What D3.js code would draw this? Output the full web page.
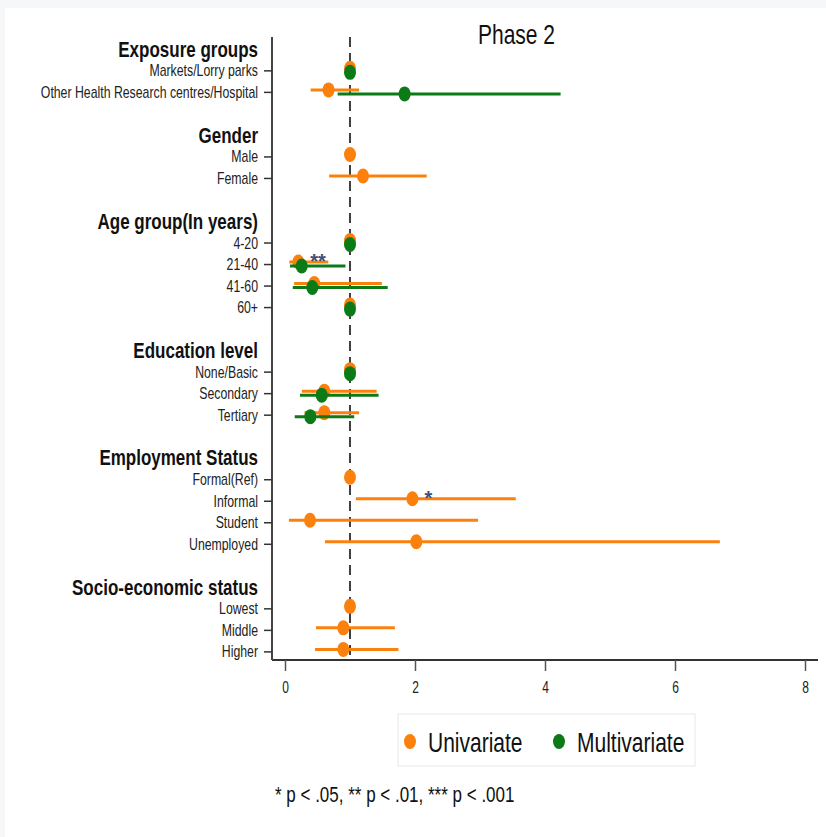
<!DOCTYPE html>
<html>
<head>
<meta charset="utf-8">
<script src="https://cdn.jsdelivr.net/npm/d3@7"></script>
<style>
  html, body { margin: 0; padding: 0; background: #f5f7f8; }
  svg { display: block; }
  text { font-family: "Liberation Sans", Arial, sans-serif; }
</style>
</head>
<body>
<svg id="chart" width="826" height="837"></svg>
<script>
// ---------------- DATA ----------------
const title = "Phase 2";
const groups = ["Exposure groups", "Gender", "Age group(In years)", "Education level", "Employment Status", "Socio-economic status"];
const labels = [
  "Markets/Lorry parks", "Other Health Research centres/Hospital",
  "Male", "Female",
  "4-20", "21-40", "41-60", "60+",
  "None/Basic", "Secondary", "Tertiary",
  "Formal(Ref)", "Informal", "Student", "Unemployed",
  "Lowest", "Middle", "Higher"
];
const labelGroup = [0,0, 1,1, 2,2,2,2, 3,3,3, 4,4,4,4, 5,5,5];

const uniEst = [1, 0.67, 1, 1.20, 1, 0.205, 0.45, 1, 1, 0.605, 0.605, 1, 1.96, 0.385, 2.02, 1, 0.897, 0.897];
const uniLo  = [null, 0.395, null, 0.68, null, 0.066, 0.14, null, null, 0.26, 0.30, null, 1.09, 0.06, 0.615, null, 0.477, 0.462];
const uniHi  = [null, 1.14, null, 2.18, null, 0.666, 1.49, null, null, 1.41, 1.14, null, 3.55, 2.97, 6.69, null, 1.69, 1.745];

const multiEst = [1, 1.84, null, null, 1, 0.257, 0.42, 1, 1, 0.565, 0.39, null, null, null, null, null, null, null];
const multiLo  = [null, 0.81, null, null, null, 0.077, 0.12, null, null, 0.23, 0.15, null, null, null, null, null, null, null];
const multiHi  = [null, 4.24, null, null, null, 0.93, 1.58, null, null, 1.44, 1.065, null, null, null, null, null, null, null];

const uniStars = ["", "", "", "", "", "**", "", "", "", "", "", "", "*", "", "", "", "", ""];

const xTicks = [0, 2, 4, 6, 8];
const xDomain = [-0.2, 8.2];
const refValue = 1;
const seriesNames = ["Univariate", "Multivariate"];
const footnote = "* p < .05, ** p < .01, *** p < .001";

// ---------------- LAYOUT ----------------
const ORANGE = "#fb810c";
const GREEN = "#0b7a17";
const TEXT_SY = 1.3;

const svg = d3.select("#chart");
svg.append("rect").attr("x", 5).attr("y", 8).attr("width", 821).attr("height", 829).attr("fill", "#ffffff");

// row slots: header, items..., blank
const rowOf = [];
const headerRow = [];
let r = 0;
groups.forEach((g, gi) => {
  headerRow.push(r); r++;
  labelGroup.forEach((lg, i) => { if (lg === gi) { rowOf[i] = r; r++; } });
  r++;
});

const plotLeft = 272, plotRight = 818, plotTop = 37, plotBottom = 660;
const x = d3.scaleLinear().domain(xDomain).range([plotLeft, plotRight]);
const y = d3.scaleLinear().domain([-0.55, 28.4]).range([plotTop, plotBottom]);

function sText(sel, tx, ty, sy) {
  return sel.attr("transform", `translate(${tx},${ty}) scale(1,${sy})`);
}

// reference dashed line
svg.append("line")
  .attr("x1", x(refValue)).attr("x2", x(refValue))
  .attr("y1", plotTop).attr("y2", plotBottom)
  .attr("stroke", "#111").attr("stroke-width", 1.6)
  .attr("stroke-dasharray", "10,6");

// x axis
const xAxis = d3.axisBottom(x).tickValues(xTicks).tickSize(11).tickSizeOuter(0).tickFormat(d3.format("d"));
const gx = svg.append("g").attr("transform", `translate(0,${plotBottom})`).call(xAxis);
gx.select(".domain").attr("stroke", "#333").attr("stroke-width", 2)
  .attr("d", `M${plotLeft},0H${plotRight}`);
gx.selectAll(".tick line").attr("stroke", "#555").attr("stroke-width", 1.5);
gx.selectAll(".tick text").attr("y", 0).attr("dy", 0)
  .attr("transform", `translate(0,33) scale(1,1.45)`)
  .attr("font-size", 12).attr("fill", "#222")
  .style("font-family", '"Liberation Sans", Arial, sans-serif');

// y axis
const yAxis = d3.axisLeft(y).tickValues(rowOf).tickSize(8).tickSizeOuter(0)
  .tickFormat((d) => labels[rowOf.indexOf(d)]);
const gy = svg.append("g").attr("transform", `translate(${plotLeft},0)`).call(yAxis);
gy.select(".domain").attr("stroke", "#444").attr("stroke-width", 2)
  .attr("d", `M0,${plotTop}V${plotBottom}`);
gy.selectAll(".tick line").attr("stroke", "#333").attr("stroke-width", 1.5);
gy.selectAll(".tick text").attr("x", 0).attr("dy", 0)
  .attr("transform", `translate(-14,5.5) scale(1,${TEXT_SY})`)
  .attr("font-size", 12.3).attr("fill", "#222")
  .style("font-family", '"Liberation Sans", Arial, sans-serif');

// group headers
groups.forEach((g, gi) => {
  sText(svg.append("text"), 258, y(headerRow[gi]) + 7.7, TEXT_SY)
    .attr("text-anchor", "end").attr("font-size", 17).attr("font-weight", "bold")
    .attr("fill", "#111").text(g);
});

// series
const series = [
  { est: uniEst, lo: uniLo, hi: uniHi, color: ORANGE, off: -2, stars: uniStars },
  { est: multiEst, lo: multiLo, hi: multiHi, color: GREEN, off: 2, stars: null }
];
series.forEach((s) => {
  const g = svg.append("g");
  const idx = d3.range(labels.length).filter((i) => s.est[i] != null);
  g.selectAll("line.ci").data(idx.filter((i) => s.lo[i] != null)).join("line")
    .attr("x1", (i) => x(s.lo[i])).attr("x2", (i) => x(s.hi[i]))
    .attr("y1", (i) => y(rowOf[i]) + s.off).attr("y2", (i) => y(rowOf[i]) + s.off)
    .attr("stroke", s.color).attr("stroke-width", 3);
  g.selectAll("ellipse").data(idx).join("ellipse")
    .attr("cx", (i) => x(s.est[i])).attr("cy", (i) => y(rowOf[i]) + s.off)
    .attr("rx", 6).attr("ry", 7.5).attr("fill", s.color);
  if (s.stars) {
    g.selectAll("text.star").data(idx.filter((i) => s.stars[i])).join("text")
      .attr("x", (i) => x(s.est[i]) + 12).attr("y", (i) => y(rowOf[i]) + 4)
      .attr("font-size", 20).attr("font-weight", "bold").attr("fill", "#3c4f7c").text((i) => s.stars[i]);
  }
});

// title
sText(svg.append("text"), 478, 44, TEXT_SY).attr("font-size", 21).attr("fill", "#111").text(title);

// legend
svg.append("rect").attr("x", 398).attr("y", 714).attr("width", 297).attr("height", 52)
  .attr("fill", "#fff").attr("stroke", "#e6e8ea").attr("stroke-width", 1);
const legItems = [
  { name: seriesNames[0], color: ORANGE, cx: 410, tx: 428 },
  { name: seriesNames[1], color: GREEN, cx: 559, tx: 577 }
];
legItems.forEach((d) => {
  svg.append("ellipse").attr("cx", d.cx).attr("cy", 741.5).attr("rx", 6).attr("ry", 7.5).attr("fill", d.color);
  sText(svg.append("text"), d.tx, 751.5, TEXT_SY).attr("font-size", 21).attr("fill", "#111").text(d.name);
});

// footnote
sText(svg.append("text"), 275, 802, TEXT_SY).attr("font-size", 17).attr("fill", "#111").text(footnote);
</script>
</body>
</html>
